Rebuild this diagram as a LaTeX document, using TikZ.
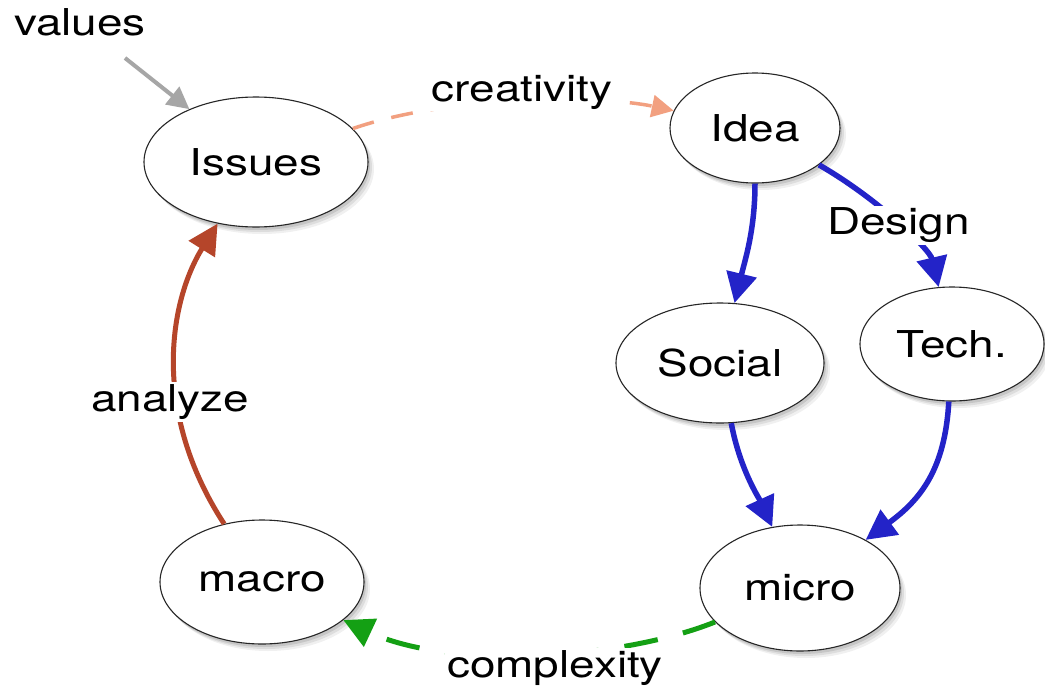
\documentclass[tikz,border=0pt]{standalone}
\usepackage{fontspec}
\setmainfont{TeX Gyre Heros}[FakeStretch=1.24]
\usetikzlibrary{shapes.geometric,arrows.meta,shadows}
\definecolor{dblue}{HTML}{2323C8}
\definecolor{dbrown}{HTML}{B5452A}
\definecolor{dsalmon}{HTML}{F2A080}
\definecolor{dgreen}{HTML}{14A014}
\definecolor{dgray}{HTML}{A6A6A6}
\tikzset{
  softshadow/.style={
    general shadow={fill=black,opacity=0.10,shadow xshift=2pt,shadow yshift=-3pt},
    general shadow={fill=black,opacity=0.08,shadow xshift=4pt,shadow yshift=-5pt},
    general shadow={fill=black,opacity=0.06,shadow xshift=6pt,shadow yshift=-7pt}},
  bubble/.style={ellipse,draw=black!85,line width=1.1pt,fill=white,inner sep=0pt,softshadow},
  lbl/.style={fill=white,text=black,inner sep=2pt},
  txt/.style={inner sep=0pt},
  bluearrow/.style={draw=dblue,line width=5.5pt,-{Triangle[length=30pt,width=30pt]}},
}
\begin{document}
\begin{tikzpicture}[x=1pt,y=-1pt,font=\fontsize{37}{40}\selectfont]
\useasboundingbox (0,0) rectangle (1045,691);
\fill[white] (0,0) rectangle (1045,691);

\node[bubble,minimum width=224pt,minimum height=130pt] (Issues) at (256,162) {Issues};
\node[bubble,minimum width=170pt,minimum height=110pt] (Idea) at (755,128) {Idea};
\node[bubble,minimum width=208pt,minimum height=120pt] (Social) at (720,363) {Social};
\node[bubble,minimum width=184pt,minimum height=114pt] (Tech) at (952,344) {Tech.};
\node[bubble,minimum width=200pt,minimum height=126pt] (micro) at (800,588) {micro};
\node[bubble,minimum width=204pt,minimum height=124pt] (macro) at (262,582) {macro};

\node[txt] (values) at (80,22) {values};
\coordinate (vstart) at (125,58);
\draw[dgray,line width=4pt,-{Triangle[length=22pt,width=22pt]}] (vstart) -- (Issues);

\draw[dsalmon,line width=3.5pt,dash pattern=on 22pt off 18pt,-{Triangle[length=22pt,width=22pt]}]
  (Issues) .. controls (450,95) and (600,95) .. (Idea)
  node[lbl,pos=0.5,yshift=9pt] (creativity) {creativity};

\draw[bluearrow] (Idea) .. controls (755,230) and (745,260) .. (Social);
\draw[bluearrow] (Idea) .. controls (880,200) and (930,250) .. (Tech)
  node[lbl,pos=0.5] (design) {Design};
\draw[bluearrow] (Social) .. controls (740,470) and (760,500) .. (micro);
\draw[bluearrow] (Tech) .. controls (945,470) and (920,500) .. (micro);

\draw[dgreen,line width=5pt,dash pattern=on 34pt off 26pt,-{Triangle[length=30pt,width=30pt]}]
  (micro) .. controls (620,660) and (450,670) .. (macro);
\node[lbl] (complexity) at (555,668) {complexity};

\draw[dbrown,line width=5pt,-{Triangle[length=30pt,width=30pt]}]
  (macro) .. controls (150,410) and (170,300) .. (Issues);
\node[lbl] (analyze) at (170,402) {analyze};
\end{tikzpicture}
\end{document}
